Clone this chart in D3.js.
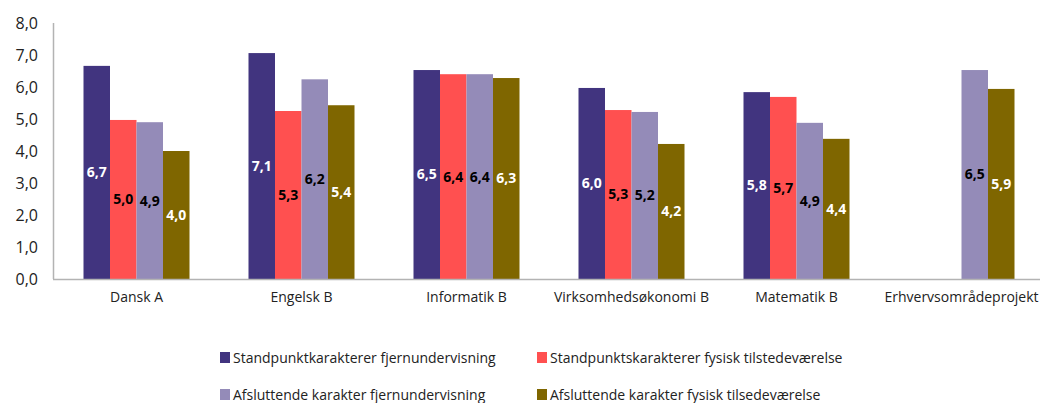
<!DOCTYPE html>
<html>
<head>
<meta charset="utf-8">
<script src="https://cdn.jsdelivr.net/npm/d3@7"></script>
<style>
  body { margin: 0; background: #fff; }
  svg { font-family: "Open Sans", "Noto Sans", sans-serif; }
</style>
</head>
<body>
<div id="chart"></div>
<script>
// categories and series
const categories = ['Dansk A', 'Engelsk B', 'Informatik B', 'Virksomhedsøkonomi B', 'Matematik B', 'Erhvervsområdeprojekt'];
const seriesNames = [
  'Standpunktkarakterer fjernundervisning',
  'Standpunktskarakterer fysisk tilstedeværelse',
  'Afsluttende karakter fjernundervisning',
  'Afsluttende karakter fysisk tilsedeværelse'
];
const standpunktFjern = [6.66, 7.06, 6.53, 5.97, 5.84, null];
const standpunktFysisk = [4.97, 5.25, 6.40, 5.28, 5.69, null];
const afslutFjern = [4.90, 6.24, 6.40, 5.22, 4.88, 6.53];
const afslutFysisk = [4.00, 5.43, 6.28, 4.22, 4.38, 5.94];
const yTicks = [0, 1, 2, 3, 4, 5, 6, 7, 8];

const colors = ['#41347f', '#ff5050', '#948bb8', '#7f6600'];
const labelColors = ['#ffffff', '#000000', '#000000', '#ffffff'];

const width = 1040;
const height = 403;
const margin = { top: 23, left: 54, bottom: 124 };
const plotRight = 1044;

const svg = d3.select('#chart').append('svg')
  .attr('width', width)
  .attr('height', height);

const x0 = d3.scaleBand()
  .domain(categories)
  .range([margin.left, plotRight]);

const x1 = d3.scaleBand()
  .domain(d3.range(4))
  .range([0, 106])
  .padding(0);

const y = d3.scaleLinear()
  .domain([0, 8])
  .range([height - margin.bottom, margin.top]);

const fmt = v => d3.format('.1f')(v).replace('.', ',');

// y labels
svg.append('g')
  .selectAll('text')
  .data(yTicks)
  .enter()
  .append('text')
    .attr('x', 38)
    .attr('y', d => y(d))
    .attr('dy', '0.35em')
    .attr('text-anchor', 'end')
    .attr('font-size', 16)
    .attr('fill', '#222')
    .text(d => fmt(d));

// bars
const series = [standpunktFjern, standpunktFysisk, afslutFjern, afslutFysisk];
series.forEach((vals, si) => {
  const g = svg.append('g');
  const data = vals.map((v, i) => ({ cat: categories[i], v })).filter(d => d.v !== null);
  g.selectAll('rect')
    .data(data)
    .enter()
    .append('rect')
      .attr('x', d => x0(d.cat) + x0.bandwidth() / 2 - 53 + x1(si))
      .attr('y', d => y(d.v))
      .attr('width', x1.bandwidth())
      .attr('height', d => y(0) - y(d.v))
      .attr('fill', colors[si]);
  g.selectAll('text')
    .data(data)
    .enter()
    .append('text')
      .attr('x', d => x0(d.cat) + x0.bandwidth() / 2 - 53 + x1(si) + x1.bandwidth() / 2)
      .attr('y', d => (y(d.v) + y(0)) / 2)
      .attr('dy', '0.35em')
      .attr('text-anchor', 'middle')
      .attr('font-size', 14)
      .attr('font-weight', 'bold')
      .attr('fill', labelColors[si])
      .text(d => fmt(d.v));
});

// axes lines
svg.append('line')
  .attr('x1', margin.left - 0.5).attr('x2', margin.left - 0.5)
  .attr('y1', margin.top).attr('y2', y(0))
  .attr('stroke', '#b3b3b3').attr('stroke-width', 1.5);
svg.append('line')
  .attr('x1', margin.left - 1).attr('x2', width)
  .attr('y1', y(0) + 0.5).attr('y2', y(0) + 0.5)
  .attr('stroke', '#b3b3b3').attr('stroke-width', 1.5);

// category labels
svg.append('g')
  .selectAll('text')
  .data(categories)
  .enter()
  .append('text')
    .attr('x', d => x0(d) + x0.bandwidth() / 2)
    .attr('y', y(0) + 23)
    .attr('text-anchor', 'middle')
    .attr('font-size', 14)
    .attr('fill', '#222')
    .text(d => d);

// legend (second row is cut by the bottom edge, as in the original)
const legendPos = [[220, 358], [537, 358], [220, 395], [537, 395]];
const legend = svg.append('g');
seriesNames.forEach((name, i) => {
  const [lx, ly] = legendPos[i];
  legend.append('rect')
    .attr('x', lx).attr('y', ly - 6)
    .attr('width', 10).attr('height', 11)
    .attr('fill', colors[i]);
  legend.append('text')
    .attr('x', lx + 13).attr('y', ly)
    .attr('dy', '0.35em')
    .attr('font-size', 14)
    .attr('fill', '#222')
    .text(name);
});
</script>
</body>
</html>
